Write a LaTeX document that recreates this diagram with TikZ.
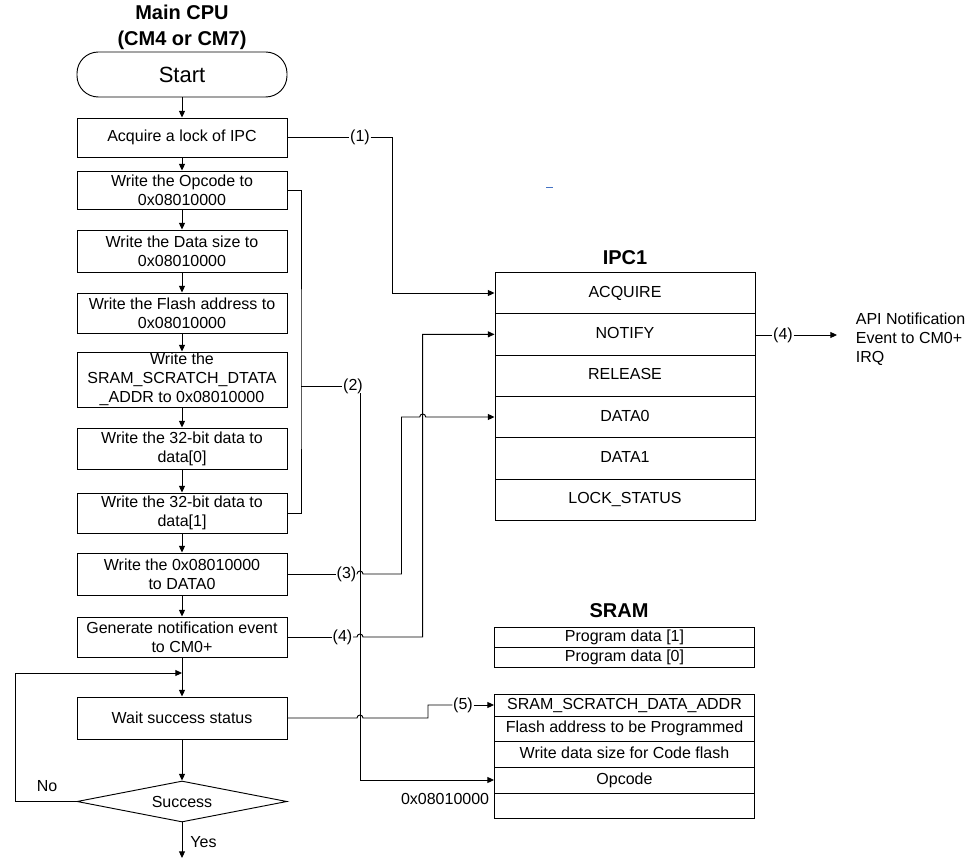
\documentclass[tikz,border=0pt]{standalone}
\usepackage{fontspec}
\setmainfont{Liberation Sans}
\usetikzlibrary{shapes.geometric,arrows.meta}
\definecolor{markblue}{RGB}{68,114,196}
\begin{document}
\begin{tikzpicture}[x=0.75pt,y=-0.75pt,
  line width=0.7pt,
  every node/.style={font=\fontsize{12}{14.25}\selectfont, inner sep=0.3pt},
  flowbox/.style={draw, minimum width=157.5pt, align=center},
  reg/.style={draw, minimum width=195pt, minimum height=31pt, text height=8.6pt, text depth=2.5pt},
  mem/.style={draw, minimum width=195pt, text height=8.6pt, text depth=2.5pt},
  heading/.style={font=\fontsize{15}{19.5}\selectfont\bfseries, align=center},
  arr/.style={-{Triangle[length=5pt,width=4.5pt]}},
]
\useasboundingbox (0,0) rectangle (974,859);

% ---------------- main CPU flow ----------------
\node[heading] (cpu) at (182,27) {Main CPU\\(CM4 or CM7)};
\node[flowbox, rounded corners=16pt, minimum height=33.75pt, font=\fontsize{16.5}{19}\selectfont] (start) at (182,74.5) {Start};
\node[flowbox, minimum height=29.25pt] (b1) at (182,137.5) {Acquire a lock of IPC};
\node[flowbox, minimum height=28.5pt] (b2) at (182,190) {Write the Opcode to\\0x08010000};
\node[flowbox, minimum height=31.5pt] (b3) at (182,251) {Write the Data size to\\0x08010000};
\node[flowbox, minimum height=30pt] (b4) at (182,313) {Write the Flash address to\\0x08010000};
\node[flowbox, minimum height=41.25pt] (b5) at (182,379.5) {Write the\\SRAM\_SCRATCH\_DTATA\\\_ADDR to 0x08010000};
\node[flowbox, minimum height=30.75pt] (b6) at (182,448.5) {Write the 32-bit data to\\data[0]};
\node[flowbox, minimum height=30pt] (b7) at (182,513) {Write the 32-bit data to\\data[1]};
\node[flowbox, minimum height=31.5pt] (b8) at (182,574) {Write the 0x08010000\\to DATA0};
\node[flowbox, minimum height=30pt] (b9) at (182,637) {Generate notification event\\to CM0+};
\node[flowbox, minimum height=31.5pt] (b10) at (182,718) {Wait success status};
\node[draw, diamond, aspect=5, minimum width=157.5pt, minimum height=30.75pt] (ok) at (182,801.5) {Success};
\coordinate (done) at (182,858);
\coordinate (loopin) at (182,673);

\draw[arr] (start) -- (b1);
\draw[arr] (b1) -- (b2);
\draw[arr] (b2) -- (b3);
\draw[arr] (b3) -- (b4);
\draw[arr] (b4) -- (b5);
\draw[arr] (b5) -- (b6);
\draw[arr] (b6) -- (b7);
\draw[arr] (b7) -- (b8);
\draw[arr] (b8) -- (b9);
\draw[arr] (b9) -- (b10);
\draw[arr] (b10) -- (ok);
\draw[arr] (ok) -- (done);
\draw[arr] (ok.west) -- ++(-61,0) |- (loopin);
\node (no) at (47,786) {No};
\node (yes) at (203.5,842) {Yes};

% ---------------- IPC1 registers ----------------
\node[heading] (ipct) at (625,258) {IPC1};
\node[reg] (acq) at (625,293) {ACQUIRE};
\node[reg] (nfy) at (625,334.33) {NOTIFY};
\node[reg] (rel) at (625,375.67) {RELEASE};
\node[reg] (d0) at (625,417) {DATA0};
\node[reg] (d1) at (625,458.33) {DATA1};
\node[reg] (lck) at (625,499.67) {LOCK\_STATUS};

% ---------------- SRAM ----------------
\node[heading] (sramt) at (619,611) {SRAM};
\node[mem, minimum height=15pt] (pd1) at (624.5,637) {Program data [1]};
\node[mem, minimum height=15pt] (pd0) at (624.5,657) {Program data [0]};
\node[mem, minimum height=16.5pt] (scr) at (624.5,705) {SRAM\_SCRATCH\_DATA\_ADDR};
\node[mem, minimum height=18.75pt] (fla) at (624.5,728.5) {Flash address to be Programmed};
\node[mem, minimum height=19.5pt] (wds) at (624.5,754) {Write data size for Code flash};
\node[mem, minimum height=19.5pt] (opc) at (624.5,780) {Opcode};
\node[mem, minimum height=18.75pt] (emp) at (624.5,805.5) {};
\node[anchor=east] (addr) at (490,799) {0x08010000};

% ---------------- step connectors ----------------
% (1) lock acquire
\node (l1) at (360,137.5) {(1)};
\coordinate (c1) at (392,137.5);
\draw (b1.east) -- (l1.west);
\draw[arr] (l1.east) -- (c1) |- (acq.west);

% (2) parameters written to SRAM
\node (l2) at (353,386) {(2)};
\coordinate (v2) at (301,386);
\coordinate (d2) at (360,393);
\draw (b2.east) -| (v2) |- (b7.east);
\draw (v2) -- (l2.west);
\draw[arr] (d2) |- (opc.west);

% (3) address to DATA0
\node (l3) at (346.5,574) {(3)};
\draw (b8.east) -- (l3.west);
\draw[arr] (l3.east) -- (357,574) arc[start angle=180,end angle=0,radius=2.25pt]
  -- (401.5,574) -- (401.5,417) -- (419.7,417)
  arc[start angle=180,end angle=0,radius=2.25pt] -- (d0.west);

% (4) notify
\node (l4) at (342.5,637) {(4)};
\draw (b9.east) -- (l4.west);
\draw[arr] (l4.east) -- (357,637) arc[start angle=180,end angle=0,radius=2.25pt]
  -- (422.7,637) |- (nfy.west);

% (5) status read back
\node (l5) at (463,705) {(5)};
\draw (b10.east) -- (357,718) arc[start angle=180,end angle=0,radius=2.25pt]
  -- (428,718) |- (l5.west);
\draw[arr] (l5.east) -- (scr.west);

% (4) interrupt towards CM0+
\node (l4b) at (783,335) {(4)};
\coordinate (irq) at (837,335);
\draw (nfy.east |- l4b) -- (l4b.west);
\draw[arr] (l4b.east) -- (irq);
\node[anchor=west, align=left] (api) at (855,339) {API Notification\\Event to CM0+\\IRQ};

% stray mark
\draw[markblue, line width=0.75pt] (546,188) -- (553,188);
\end{tikzpicture}
\end{document}
